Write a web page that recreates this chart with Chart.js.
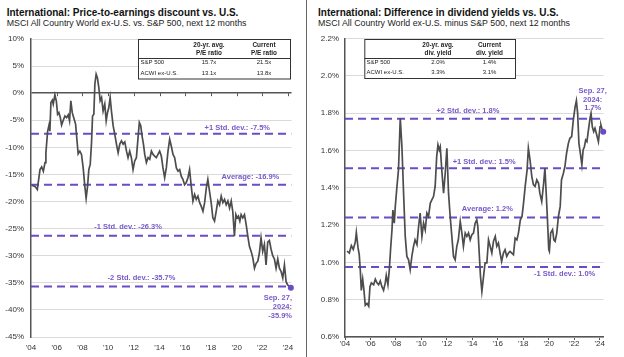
<!DOCTYPE html>
<html><head><meta charset="utf-8">
<script src="https://cdn.jsdelivr.net/npm/chart.js@4/dist/chart.umd.min.js"></script>
<style>
body{margin:0;background:#fff;width:624px;height:357px;overflow:hidden;position:relative;font-family:"Liberation Sans",Arial,sans-serif}
canvas{position:absolute;top:0}
.t{position:absolute;font-weight:bold;font-size:10px;line-height:10px;color:#111;white-space:nowrap}
.s{position:absolute;font-size:8.8px;line-height:8.8px;color:#222;white-space:nowrap}
.sep{position:absolute;left:305.5px;top:0;width:1.5px;height:357px;background:#666}
</style></head>
<body>
<div class="t" style="left:6.7px;top:8.2px">International: Price-to-earnings discount vs. U.S.</div>
<div class="s" style="left:6.7px;top:19.3px">MSCI All Country World ex-U.S. vs. S&amp;P 500, next 12 months</div>
<div class="t" style="left:318px;top:8.2px">International: Difference in dividend yields vs. U.S.</div>
<div class="s" style="left:318px;top:19.3px">MSCI All Country World ex-U.S. minus S&amp;P 500, next 12 months</div>
<canvas id="c1" width="306" height="357" style="left:0"></canvas>
<div class="sep"></div>
<canvas id="c2" width="312" height="357" style="left:312px"></canvas>
<script>
// ---------- DATA ----------
const peYears = [2004.05,2004.31,2004.49,2004.70,2004.83,2004.96,2005.09,2005.16,2005.29,2005.40,2005.47,2005.55,2005.66,2005.73,2005.86,2005.97,2006.07,2006.17,2006.28,2006.38,2006.51,2006.64,2006.77,2006.90,2007.00,2007.10,2007.21,2007.36,2007.47,2007.57,2007.67,2007.80,2007.93,2008.06,2008.19,2008.29,2008.40,2008.50,2008.61,2008.71,2008.79,2008.89,2008.97,2009.07,2009.17,2009.28,2009.38,2009.49,2009.61,2009.74,2009.85,2009.95,2010.05,2010.16,2010.26,2010.39,2010.52,2010.65,2010.78,2010.91,2011.04,2011.17,2011.30,2011.43,2011.55,2011.68,2011.81,2011.94,2012.07,2012.20,2012.33,2012.43,2012.54,2012.64,2012.75,2012.85,2012.98,2013.11,2013.24,2013.37,2013.50,2013.62,2013.75,2013.88,2014.01,2014.14,2014.27,2014.40,2014.53,2014.66,2014.79,2014.92,2015.05,2015.18,2015.31,2015.44,2015.57,2015.69,2015.82,2015.95,2016.08,2016.21,2016.34,2016.47,2016.60,2016.73,2016.86,2016.99,2017.12,2017.25,2017.38,2017.51,2017.64,2017.76,2017.89,2018.02,2018.15,2018.28,2018.41,2018.54,2018.67,2018.80,2018.93,2019.06,2019.19,2019.32,2019.45,2019.58,2019.70,2019.83,2019.94,2020.04,2020.14,2020.25,2020.35,2020.48,2020.61,2020.74,2020.87,2021.00,2021.13,2021.26,2021.39,2021.52,2021.65,2021.77,2021.90,2022.03,2022.16,2022.29,2022.42,2022.55,2022.68,2022.81,2022.94,2023.07,2023.20,2023.33,2023.46,2023.59,2023.72,2023.85,2023.97,2024.22];
const peValues = [-17.0,-17.2,-17.8,-14.1,-13.6,-14.4,-12.8,-11.0,-7.1,-5.9,-7.0,-1.7,-1.3,-2.0,-0.3,-1.4,-3.9,-3.6,-4.5,-5.9,-5.0,-4.2,-4.5,-4.0,-5.1,-1.4,-3.6,-4.8,-5.7,-8.5,-11.2,-10.7,-11.3,-13.8,-17.2,-19.4,-17.2,-14.1,-13.1,-9.1,-4.2,-3.9,1.7,3.5,2.8,1.0,-1.4,-0.8,-3.3,-2.0,-5.1,-3.6,-2.7,-0.8,-3.3,-6.0,-7.6,-9.4,-11.0,-9.4,-8.8,-9.4,-9.0,-10.7,-11.9,-10.7,-11.9,-14.1,-12.5,-11.9,-8.2,-5.4,-6.0,-7.9,-9.4,-11.3,-12.8,-11.9,-12.2,-10.7,-11.3,-11.6,-11.9,-11.3,-10.7,-11.6,-13.8,-15.6,-13.8,-10.7,-8.5,-9.8,-11.3,-11.9,-13.8,-14.4,-14.1,-15.3,-15.9,-16.9,-16.5,-15.6,-14.1,-17.2,-19.9,-18.7,-19.6,-19.0,-20.2,-20.9,-21.8,-20.2,-17.5,-15.9,-18.1,-20.2,-23.0,-23.6,-21.8,-19.9,-20.6,-19.0,-20.2,-19.6,-20.6,-19.9,-21.2,-19.9,-21.8,-26.4,-22.4,-23.0,-22.7,-23.6,-22.4,-23.0,-22.4,-24.2,-26.4,-28.3,-29.2,-30.4,-32.3,-31.4,-31.0,-29.5,-26.7,-29.2,-27.9,-31.7,-27.5,-27.2,-28.8,-30.0,-30.6,-32.3,-30.6,-32.3,-32.9,-34.1,-31.7,-34.8,-35.4,-35.9];

const dyYears = [2004.16,2004.34,2004.50,2004.65,2004.81,2004.89,2005.02,2005.12,2005.20,2005.28,2005.39,2005.49,2005.59,2005.73,2005.86,2005.96,2006.07,2006.25,2006.38,2006.51,2006.64,2006.77,2006.90,2007.03,2007.16,2007.24,2007.37,2007.48,2007.58,2007.69,2007.76,2007.87,2007.95,2008.08,2008.20,2008.34,2008.47,2008.60,2008.73,2008.86,2008.99,2009.12,2009.25,2009.38,2009.50,2009.65,2009.78,2009.90,2010.04,2010.17,2010.30,2010.43,2010.56,2010.70,2010.82,2010.95,2011.08,2011.20,2011.30,2011.40,2011.48,2011.60,2011.74,2011.87,2012.00,2012.13,2012.26,2012.39,2012.52,2012.65,2012.78,2012.90,2013.05,2013.18,2013.30,2013.44,2013.57,2013.70,2013.83,2013.96,2014.09,2014.22,2014.35,2014.43,2014.54,2014.64,2014.75,2014.88,2015.00,2015.14,2015.27,2015.40,2015.53,2015.66,2015.80,2015.92,2016.05,2016.18,2016.30,2016.44,2016.57,2016.70,2016.84,2016.96,2017.10,2017.23,2017.36,2017.50,2017.62,2017.77,2017.90,2018.02,2018.15,2018.30,2018.40,2018.53,2018.67,2018.80,2018.93,2019.06,2019.20,2019.30,2019.45,2019.60,2019.70,2019.80,2019.90,2020.00,2020.05,2020.15,2020.30,2020.40,2020.50,2020.63,2020.76,2020.90,2021.00,2021.15,2021.27,2021.40,2021.54,2021.66,2021.80,2021.93,2022.07,2022.17,2022.27,2022.37,2022.48,2022.60,2022.70,2022.80,2022.90,2023.00,2023.10,2023.24,2023.32,2023.42,2023.53,2023.63,2023.77,2023.90,2024.03,2024.10,2024.20,2024.28];
const dyValues = [1.06,1.05,1.09,1.07,1.11,1.16,1.08,1.04,0.96,0.85,0.91,0.85,0.77,0.78,0.765,0.87,0.89,0.88,0.91,0.89,0.88,0.90,0.87,0.85,0.89,0.93,0.88,0.96,1.07,1.175,1.28,1.21,1.30,1.407,1.496,1.772,1.62,1.371,1.139,1.032,1.014,0.961,1.032,1.086,1.121,1.095,1.193,1.264,1.139,1.21,1.175,1.264,1.246,1.318,1.335,1.353,1.407,1.567,1.63,1.603,1.62,1.496,1.371,1.478,1.612,1.371,1.246,1.139,1.032,1.014,1.086,1.121,1.219,1.157,1.086,1.157,1.139,1.157,1.121,1.148,1.157,1.21,1.228,1.193,1.05,0.925,0.845,0.925,0.997,0.997,1.121,1.086,1.05,1.113,1.139,1.086,1.104,1.05,1.005,1.05,1.068,1.032,1.05,1.059,1.05,1.041,1.13,1.121,1.157,1.228,1.246,1.318,1.407,1.496,1.612,1.55,1.46,1.416,1.407,1.442,1.424,1.371,1.326,1.424,1.505,1.371,1.228,1.068,1.059,1.157,1.175,1.121,1.113,1.157,1.246,1.30,1.442,1.478,1.514,1.585,1.638,1.665,1.674,1.763,1.834,1.867,1.799,1.638,1.585,1.523,1.603,1.62,1.656,1.647,1.701,1.772,1.799,1.727,1.701,1.719,1.683,1.647,1.727,1.736,1.71,1.70];

const xTickYears = [2004,2006,2008,2010,2012,2014,2016,2018,2020,2022,2024];
const peBandValues = [-7.5, -16.9, -26.3, -35.7];
const peBandLabels = ['+1 Std. dev.: -7.5%', 'Average: -16.9%', '-1 Std. dev.: -26.3%', '-2 Std. dev.: -35.7%'];
const dyBandValues = [1.77, 1.505, 1.24, 0.975];
const dyBandLabels = ['+2 Std. dev.: 1.8%', '+1 Std. dev.: 1.5%', 'Average: 1.2%', '-1 Std. dev.: 1.0%'];
const peEndLabel = ['Sep. 27,', '2024:', '-35.9%'];
const dyEndLabel = ['Sep. 27,', '2024:', '1.7%'];
const peTableHeader = [['20-yr. avg.', 'P/E ratio'], ['Current', 'P/E ratio']];
const peTableRows = [['S&P 500', '15.7x', '21.5x'], ['ACWI ex-U.S.', '13.1x', '13.8x']];
const dyTableHeader = [['20-yr. avg.', 'div. yield'], ['Current', 'div. yield']];
const dyTableRows = [['S&P 500', '2.0%', '1.4%'], ['ACWI ex-U.S.', '3.3%', '3.1%']];

// ---------- STYLE / LAYOUT ----------
const FONT = '"Liberation Sans", Arial, sans-serif';
const PURPLE = '#6a4cc6';
const PURPLE_TXT = '#7759c9';
const LINE = '#4d4d4d';
const GRID = '#dadada';
const AXIS = '#555';

const peBandPos = [{x:2022.6, align:'right', dy:-6}, {x:2023.32, align:'right', dy:-8}, {x:2011.55, align:'center', dy:-9}, {x:2012.6, align:'center', dy:-9}];
const dyBandPos = [{x:2013.65, align:'center', dy:-7.5}, {x:2014.93, align:'center', dy:-6.6}, {x:2015.18, align:'center', dy:-8.3}, {x:2021.25, align:'center', dy:7}];
const peEndPos = {x:2024.31, align:'right', dys:[10.5,19.5,28.5]};
const dyEndPos = {x:2023.45, align:'center', dys:[-41,-32.3,-23.5]};

function tablePlugin(t) {
  return {
    id: 'tbl',
    afterDatasetsDraw(chart) {
      const c = chart.ctx;
      c.save();
      c.fillStyle = '#fff';
      c.fillRect(t.x0, t.y0, t.x1 - t.x0, t.y2 - t.y0);
      c.strokeStyle = '#333'; c.lineWidth = 1;
      c.strokeRect(t.x0 + 0.5, t.y0 + 0.5, t.x1 - t.x0 - 1, t.y2 - t.y0 - 1);
      c.beginPath(); c.moveTo(t.x0, t.y1 + 0.5); c.lineTo(t.x1, t.y1 + 0.5); c.stroke();
      c.fillStyle = '#222';
      c.textBaseline = 'middle';
      c.font = 'bold 6.4px ' + FONT; c.textAlign = 'center';
      t.header.forEach((h, j) => { h.forEach((line, k) => c.fillText(line, t.cols[j], t.hy[k])); });
      c.font = '6px ' + FONT;
      t.rows.forEach((r, i) => {
        c.textAlign = 'left'; c.fillText(r[0], t.lx, t.ry[i]);
        c.textAlign = 'center'; c.fillText(r[1], t.cols[0], t.ry[i]); c.fillText(r[2], t.cols[1], t.ry[i]);
      });
      c.restore();
    }
  };
}

function labelPlugin(bandValues, bandLabels, bandPos, endLabel, endPos, endValue) {
  return {
    id: 'lbl',
    afterDatasetsDraw(chart) {
      const c = chart.ctx, xs = chart.scales.x, ys = chart.scales.y;
      c.save();
      c.fillStyle = PURPLE_TXT; c.font = 'bold 7.5px ' + FONT; c.textBaseline = 'middle';
      bandLabels.forEach((s, i) => {
        const p = bandPos[i];
        c.textAlign = p.align;
        c.fillText(s, xs.getPixelForValue(p.x), ys.getPixelForValue(bandValues[i]) + p.dy);
      });
      c.textAlign = endPos.align;
      endLabel.forEach((s, i) => c.fillText(s, xs.getPixelForValue(endPos.x), ys.getPixelForValue(endValue) + endPos.dys[i]));
      c.restore();
    }
  };
}

const zeroTicks = {
  id: 'zt',
  beforeDatasetsDraw(chart) {
    const c = chart.ctx, xs = chart.scales.x, ys = chart.scales.y;
    const y0 = ys.getPixelForValue(0);
    c.save(); c.strokeStyle = AXIS; c.lineWidth = 1;
    xTickYears.slice(1).forEach(v => {
      const x = Math.round(xs.getPixelForValue(v)) + 0.5;
      c.beginPath(); c.moveTo(x, y0); c.lineTo(x, y0 + 3); c.stroke();
    });
    c.restore();
  }
};

function buildChart(id, cfg) {
  const last = cfg.years.length - 1;
  const datasets = cfg.bands.map(v => ({
    data: [{x: cfg.xmin, y: v}, {x: cfg.xmax, y: v}],
    borderColor: PURPLE, borderWidth: 2, borderDash: [8, 5], pointRadius: 0, order: 2
  }));
  datasets.unshift({
    data: cfg.years.map((x, i) => ({x, y: cfg.values[i]})),
    borderColor: LINE, borderWidth: 1.7, tension: 0, order: 1, clip: false,
    pointRadius: ctx => ctx.dataIndex === last ? 3 : 0,
    pointBackgroundColor: PURPLE, pointBorderWidth: 0
  });
  return new Chart(document.getElementById(id), {
    type: 'line',
    data: { datasets },
    options: {
      responsive: false, animation: false, events: [],
      layout: { padding: cfg.padding },
      plugins: { legend: { display: false }, tooltip: { enabled: false } },
      scales: {
        x: {
          type: 'linear', min: cfg.xmin, max: cfg.xmax,
          afterBuildTicks: s => { s.ticks = xTickYears.map(v => ({value: v})); },
          afterFit: s => { s.height = 20; },
          ticks: { font: {family: FONT, size: 8}, color: '#333', padding: cfg.xPad, maxRotation: 0, autoSkip: false,
                   callback: v => "'" + String(v).slice(2) },
          grid: cfg.xGrid,
          border: cfg.xBorder
        },
        y: {
          min: cfg.ymin, max: cfg.ymax,
          afterFit: s => { s.width = cfg.yWidth; },
          ticks: { stepSize: cfg.step, font: {family: FONT, size: 8}, color: '#333', padding: cfg.yPad,
                   callback: cfg.yFmt },
          grid: { drawTicks: false,
                  color: ctx => (cfg.zeroLine && ctx.tick && ctx.tick.value === 0) ? AXIS : GRID,
                  lineWidth: ctx => (cfg.zeroLine && ctx.tick && ctx.tick.value === 0) ? 1.5 : 1 },
          border: { color: AXIS, width: 1.5 }
        }
      }
    },
    plugins: cfg.plugins
  });
}

buildChart('c1', {
  years: peYears, values: peValues, bands: peBandValues,
  xmin: 2004, xmax: 2024.27, ymin: -45, ymax: 10, step: 5,
  yFmt: v => v + '%', yWidth: 31, yPad: 7, xPad: -2, zeroLine: true,
  padding: {top: 39, right: 14.5, bottom: 0, left: 0},
  xGrid: { display: false }, xBorder: { display: false },
  plugins: [zeroTicks,
    labelPlugin(peBandValues, peBandLabels, peBandPos, peEndLabel, peEndPos, peValues[peValues.length - 1]),
    tablePlugin({x0:138, x1:291, y0:39, y1:58, y2:79.5, cols:[209, 264], hy:[45, 53], lx:140.5, ry:[62.5, 73], header: peTableHeader, rows: peTableRows})]
});

buildChart('c2', {
  years: dyYears, values: dyValues, bands: dyBandValues,
  xmin: 2004, xmax: 2024.3, ymin: 0.6, ymax: 2.2, step: 0.2,
  yFmt: v => v.toFixed(1) + '%', yWidth: 33, yPad: 6, xPad: -1, zeroLine: false,
  padding: {top: 38.5, right: 20.5, bottom: 0, left: 0},
  xGrid: { display: true, drawOnChartArea: false, drawTicks: true, tickLength: 3, color: AXIS },
  xBorder: { display: true, color: AXIS, width: 1.5 },
  plugins: [
    labelPlugin(dyBandValues, dyBandLabels, dyBandPos, dyEndLabel, dyEndPos, dyValues[dyValues.length - 1]),
    tablePlugin({x0:52.3, x1:204, y0:39, y1:58, y2:79, cols:[126, 177.5], hy:[45, 53], lx:54.5, ry:[62.5, 72.5], header: dyTableHeader, rows: dyTableRows})]
});
</script>
</body></html>
